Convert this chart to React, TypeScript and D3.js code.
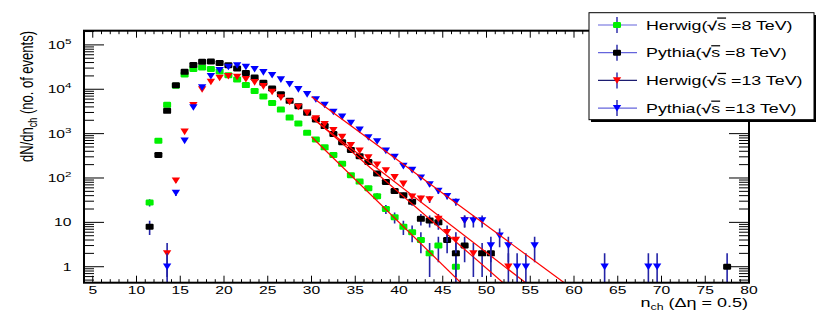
import React from 'react';
import * as d3 from 'd3';

// bin centres (n_ch) and counts
const herwig8Bins = [11.5, 12.5, 13.5, 14.5, 15.5, 16.5, 17.5, 18.5, 19.5, 20.5, 21.5, 22.5, 23.5, 24.5, 25.5, 26.5, 27.5, 28.5, 29.5, 30.5, 31.5, 32.5, 33.5, 34.5, 35.5, 36.5, 37.5, 38.5, 39.5, 40.5, 41.5, 42.5, 43.5, 44.5, 46.5];
const herwig8Counts = [28, 690, 4450, 12000, 21500, 28800, 31000, 28800, 25300, 20800, 16600, 12400, 9150, 6900, 4900, 3480, 2300, 1700, 1040, 740, 490, 330, 210, 115, 83, 59, 39, 20, 13, 8, 6, 4, 2, 3, 1];

const pythia8Bins = [11.5, 12.5, 13.5, 14.5, 15.5, 16.5, 17.5, 18.5, 19.5, 20.5, 21.5, 22.5, 23.5, 24.5, 25.5, 26.5, 27.5, 28.5, 29.5, 30.5, 31.5, 32.5, 33.5, 34.5, 35.5, 36.5, 37.5, 38.5, 39.5, 40.5, 41.5, 42.5, 43.5, 44.5, 45.5, 46.5, 47.5, 49.5, 50.5, 77.5];
const pythia8Counts = [8, 330, 3260, 12300, 24700, 35300, 41500, 42300, 39100, 34900, 29300, 23400, 18400, 14000, 10400, 7760, 5480, 4150, 2950, 2090, 1480, 980, 640, 430, 310, 230, 126, 81, 51, 41, 29, 12, 11, 10, 4, 2, 3, 2, 2, 1];

const herwig13Bins = [13.5, 14.5, 15.5, 16.5, 17.5, 18.5, 19.5, 20.5, 21.5, 22.5, 23.5, 24.5, 25.5, 26.5, 27.5, 28.5, 29.5, 30.5, 31.5, 32.5, 33.5, 34.5, 35.5, 36.5, 37.5, 38.5, 39.5, 40.5, 41.5, 42.5, 43.5, 44.5, 45.5, 46.5, 47.5, 48.5, 52.5];
const herwig13Counts = [2, 87, 1100, 4400, 9900, 14700, 18100, 19800, 19000, 16900, 14400, 11700, 8700, 6500, 5200, 4000, 2950, 2200, 1630, 1200, 840, 550, 410, 290, 200, 148, 104, 74, 38, 34, 33, 12, 6, 4, 11, 2, 1];

const pythia13Bins = [13.5, 14.5, 15.5, 16.5, 17.5, 18.5, 19.5, 20.5, 21.5, 22.5, 23.5, 24.5, 25.5, 26.5, 27.5, 28.5, 29.5, 30.5, 31.5, 32.5, 33.5, 34.5, 35.5, 36.5, 37.5, 38.5, 39.5, 40.5, 41.5, 42.5, 43.5, 44.5, 45.5, 46.5, 47.5, 48.5, 49.5, 50.5, 51.5, 52.5, 53.5, 54.5, 55.5, 63.5, 68.5, 69.5];
const pythia13Counts = [1, 46, 690, 3900, 11000, 19800, 26900, 31800, 34500, 31800, 28300, 24200, 20800, 16600, 13000, 10000, 7700, 5900, 4450, 3100, 2400, 1740, 1220, 820, 670, 410, 300, 186, 151, 102, 72, 51, 39, 29, 11, 11, 11, 3, 5, 3, 1, 1, 3, 1, 1, 1];

// exponential fits: [n start, n end] and values there
const fitRange = [30, 60];
const fitHerwig8 = [850, 0.0014];
const fitPythia8 = [2400, 0.018];
const fitHerwig13 = [2290, 0.063];
const fitPythia13 = [6760, 0.3];

const legendLabels = ['Herwig(', 'Pythia(', 'Herwig(', 'Pythia('];
const legendEnergies = ['8 TeV)', '8 TeV)', '13 TeV)', '13 TeV)'];

const xTickLabels = [5, 10, 15, 20, 25, 30, 35, 40, 45, 50, 55, 60, 65, 70, 75, 80];
const yTickValues = [1, 10, 100, 1000, 10000, 100000];
const yTickExps = ['', '', '2', '3', '4', '5'];

const SX = 1.45; // reference text is stretched horizontally
const FONT = "'Liberation Sans', Arial, Helvetica, sans-serif";
const ERR = '#2323a6';

const series = [
  { bins: herwig8Bins, counts: herwig8Counts, fit: fitHerwig8, color: '#00f000', shape: 'square', legLine: '#6464dc' },
  { bins: pythia8Bins, counts: pythia8Counts, fit: fitPythia8, color: '#000000', shape: 'square', legLine: '#6464dc' },
  { bins: herwig13Bins, counts: herwig13Counts, fit: fitHerwig13, color: '#ff0000', shape: 'tri', legLine: '#1c1c70' },
  { bins: pythia13Bins, counts: pythia13Counts, fit: fitPythia13, color: '#0000ff', shape: 'tri', legLine: '#6464dc' },
];

const Marker = ({ cx, cy, shape, color }) =>
  shape === 'square'
    ? <rect x={cx - 4} y={cy - 3} width={8} height={6} rx={1.2} fill={color} />
    : <path d={`M${cx - 4.2},${cy - 3.2}L${cx + 4.2},${cy - 3.2}L${cx},${cy + 3.4}Z`} fill={color} />;

const T = ({ x, y, anchor = 'start', size = 12, children, rotate = false }) => (
  <text
    transform={`translate(${x},${y}) scale(${SX},1)${rotate ? ' rotate(-90)' : ''}`}
    textAnchor={anchor}
    fontFamily={FONT}
    fontSize={size}
    fill="#000"
  >
    {children}
  </text>
);

export default function App() {
  const left = 84, right = 749, top = 30.7, bottom = 282.7;
  const x = d3.scaleLinear().domain([4, 80]).range([left, right]);
  const y = d3.scaleLog().domain([Math.pow(10, -0.36), Math.pow(10, 5.32)]).range([bottom, top]);

  const xMinor = d3.range(4, 81, 1);
  const yMinor = [];
  for (let d = -1; d <= 5; d++) {
    for (let k = 2; k <= 9; k++) {
      const v = k * Math.pow(10, d);
      if (v > y.domain()[0] && v < y.domain()[1]) yMinor.push(v);
    }
  }
  const line = d3.line().x((d) => x(d[0])).y((d) => y(d[1]));

  return (
    <svg width={830} height={316} style={{ position: 'absolute', left: 0, top: 0, background: '#fff' }}>
      <defs>
        <clipPath id="frame">
          <rect x={left} y={top} width={right - left} height={bottom - top} />
        </clipPath>
      </defs>
      <rect width={830} height={316} fill="#fff" />

      {/* data */}
      <g clipPath="url(#frame)">
        {series.map((s, si) => (
          <g key={si}>
            {s.bins.map((b, i) => {
              const v = s.counts[i];
              const e = Math.sqrt(v);
              const lo = v - e > y.domain()[0] ? y(v - e) : bottom + 2;
              return <line key={i} x1={x(b)} x2={x(b)} y1={y(v + e)} y2={lo} stroke={ERR} strokeWidth={1.6} />;
            })}
            {s.bins.map((b, i) => (
              <Marker key={i} cx={x(b)} cy={y(s.counts[i])} shape={s.shape} color={s.color} />
            ))}
            <path
              d={line([[fitRange[0], s.fit[0]], [fitRange[1], s.fit[1]]])}
              stroke="#ff0000"
              strokeWidth={1.2}
              fill="none"
            />
          </g>
        ))}
      </g>

      {/* ticks on all sides */}
      <g stroke="#000" strokeWidth={1}>
        {xMinor.map((t) => {
          const major = t % 5 === 0;
          const len = major ? 7 : 3.5;
          return (
            <g key={t}>
              <line x1={x(t)} x2={x(t)} y1={bottom} y2={bottom - len} />
              <line x1={x(t)} x2={x(t)} y1={top} y2={top + len} />
            </g>
          );
        })}
        {yTickValues.map((t) => (
          <g key={t}>
            <line x1={left} x2={left + 20} y1={y(t)} y2={y(t)} />
            <line x1={right} x2={right - 20} y1={y(t)} y2={y(t)} />
          </g>
        ))}
        {yMinor.map((t) => (
          <g key={t}>
            <line x1={left} x2={left + 10} y1={y(t)} y2={y(t)} />
            <line x1={right} x2={right - 10} y1={y(t)} y2={y(t)} />
          </g>
        ))}
      </g>
      <rect x={left} y={top} width={right - left} height={bottom - top} fill="none" stroke="#000" strokeWidth={2} />

      {/* tick labels */}
      {xTickLabels.map((t) => (
        <T key={t} x={x(t)} y={294} anchor="middle" size={10.8}>{t}</T>
      ))}
      {yTickValues.map((t, i) => (
        <T key={t} x={71.5} y={y(t) + 4} anchor="end" size={10.8}>
          {t === 1 ? '1' : '10'}
          {yTickExps[i] ? <tspan dy={-5} fontSize={8}>{yTickExps[i]}</tspan> : null}
        </T>
      ))}

      {/* axis titles */}
      <T x={748} y={307} anchor="end" size={12.4}>
        n<tspan dy={3} fontSize={8.5}>ch</tspan><tspan dy={-3}> (Δη = 0.5)</tspan>
      </T>
      <T x={32.5} y={31} anchor="end" size={13} rotate>
        dN/dn<tspan dy={3} fontSize={9}>ch</tspan><tspan dy={-3}>  (no. of events)</tspan>
      </T>

      {/* legend */}
      <rect x={591} y={15} width={225} height={107} fill="#000" />
      <rect x={589} y={12.7} width={225} height={107} fill="#fff" stroke="#000" strokeWidth={1} />
      {series.map((s, i) => {
        const cy = 25 + i * 27.7;
        return (
          <g key={i}>
            <line x1={598} x2={637} y1={cy} y2={cy} stroke={s.legLine} strokeWidth={1.2} />
            <line x1={617} x2={617} y1={cy - 8} y2={cy + 8} stroke={ERR} strokeWidth={1.4} />
            <Marker cx={617} cy={cy} shape={s.shape} color={s.color} />
            <T x={646} y={cy + 4.5} size={12.3}>
              {legendLabels[i]}
              <tspan fontWeight="bold">√</tspan>
              <tspan style={{ textDecoration: 'overline' }}>s</tspan>
              {' ='}
              {legendEnergies[i]}
            </T>
          </g>
        );
      })}
    </svg>
  );
}
